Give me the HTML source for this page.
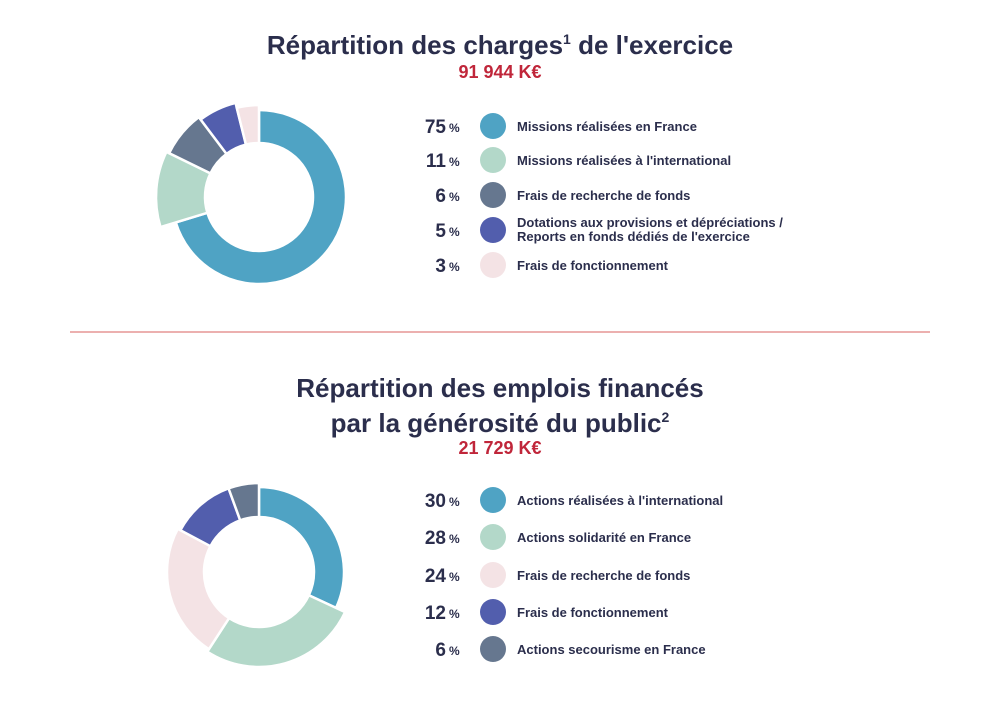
<!DOCTYPE html>
<html><head><meta charset="utf-8"><style>
body{margin:0;background:#fff;width:1000px;height:708px;overflow:hidden;font-family:"Liberation Sans",sans-serif;color:#2b2e4c}
svg{position:absolute;left:0;top:0}
</style></head><body>
<svg id="s" width="1000" height="708" viewBox="0 0 1000 708">
<text x="500" y="54" text-anchor="middle" font-size="26" font-weight="bold" fill="#2b2e4c">Répartition des charges<tspan font-size="14" dy="-10">1</tspan><tspan dy="10"> de l'exercice</tspan></text>
<text x="500" y="78" text-anchor="middle" font-size="18" font-weight="bold" fill="#c0263a">91 944 K€</text>
<line x1="70" y1="332" x2="930" y2="332" stroke="#d9605f" stroke-width="1"/>
<text x="500" y="397" text-anchor="middle" font-size="26" font-weight="bold" fill="#2b2e4c">Répartition des emplois financés</text>
<text x="500" y="432" text-anchor="middle" font-size="26" font-weight="bold" fill="#2b2e4c">par la générosité du public<tspan font-size="14" dy="-10">2</tspan></text>
<text x="500" y="454" text-anchor="middle" font-size="18" font-weight="bold" fill="#c0263a">21 729 K€</text>
<g id="d"></g>
</svg>
<script>
var C={b:"#4fa3c4",g:"#b3d8c9",s:"#66778f",p:"#525ead",k:"#f4e3e5"};
function arc(cx,cy,ri,ro,a0,a1,col){var r=Math.PI/180;function pt(R,a){return [cx+R*Math.sin(a*r),cy-R*Math.cos(a*r)]}
var l=(a1-a0)>180?1:0,A=pt(ro,a0),B=pt(ro,a1),D=pt(ri,a1),E=pt(ri,a0);
return '<path d="M'+A+' A'+ro+','+ro+' 0 '+l+' 1 '+B+' L'+D+' A'+ri+','+ri+' 0 '+l+' 0 '+E+'Z" fill="'+col+'" stroke="#fff" stroke-width="2.5"/>';}
var h='';
[[0,253,87,'b'],[253,296,103,'g'],[296,323,100,'s'],[323,346,97,'p'],[346,360,92,'k']].forEach(function(a){h+=arc(259,197,54,a[2],a[0],a[1],C[a[3]])});
[[0,115,85,'b'],[115,213,95,'g'],[213,298,92,'k'],[298,340,89,'p'],[340,360,89,'s']].forEach(function(a){h+=arc(259,572,55,a[2],a[0],a[1],C[a[3]])});
function leg(rows){rows.forEach(function(r){var y=r[0];
h+='<text x="446" y="'+(y+7)+'" text-anchor="end" font-size="19" font-weight="bold" fill="#2b2e4c">'+r[1]+'</text><text x="449" y="'+(y+6)+'" font-size="12" font-weight="bold" fill="#2b2e4c">%</text>';
h+='<circle cx="493" cy="'+y+'" r="13" fill="'+C[r[2]]+'"/>';
if(r.length>4){h+='<text x="517" y="'+(y-3)+'" font-size="13" font-weight="bold" fill="#2b2e4c">'+r[3]+'</text><text x="517" y="'+(y+11)+'" font-size="13" font-weight="bold" fill="#2b2e4c">'+r[4]+'</text>'}
else h+='<text x="517" y="'+(y+5)+'" font-size="13" font-weight="bold" fill="#2b2e4c">'+r[3]+'</text>';});}
leg([[126,'75','b','Missions réalisées en France'],[160,'11','g','Missions réalisées à l\'international'],[195,'6','s','Frais de recherche de fonds'],[230,'5','p','Dotations aux provisions et dépréciations /','Reports en fonds dédiés de l\'exercice'],[265,'3','k','Frais de fonctionnement']]);
leg([[500,'30','b','Actions réalisées à l\'international'],[537,'28','g','Actions solidarité en France'],[575,'24','k','Frais de recherche de fonds'],[612,'12','p','Frais de fonctionnement'],[649,'6','s','Actions secourisme en France']]);
document.getElementById('d').innerHTML=h;
</script>
</body></html>
